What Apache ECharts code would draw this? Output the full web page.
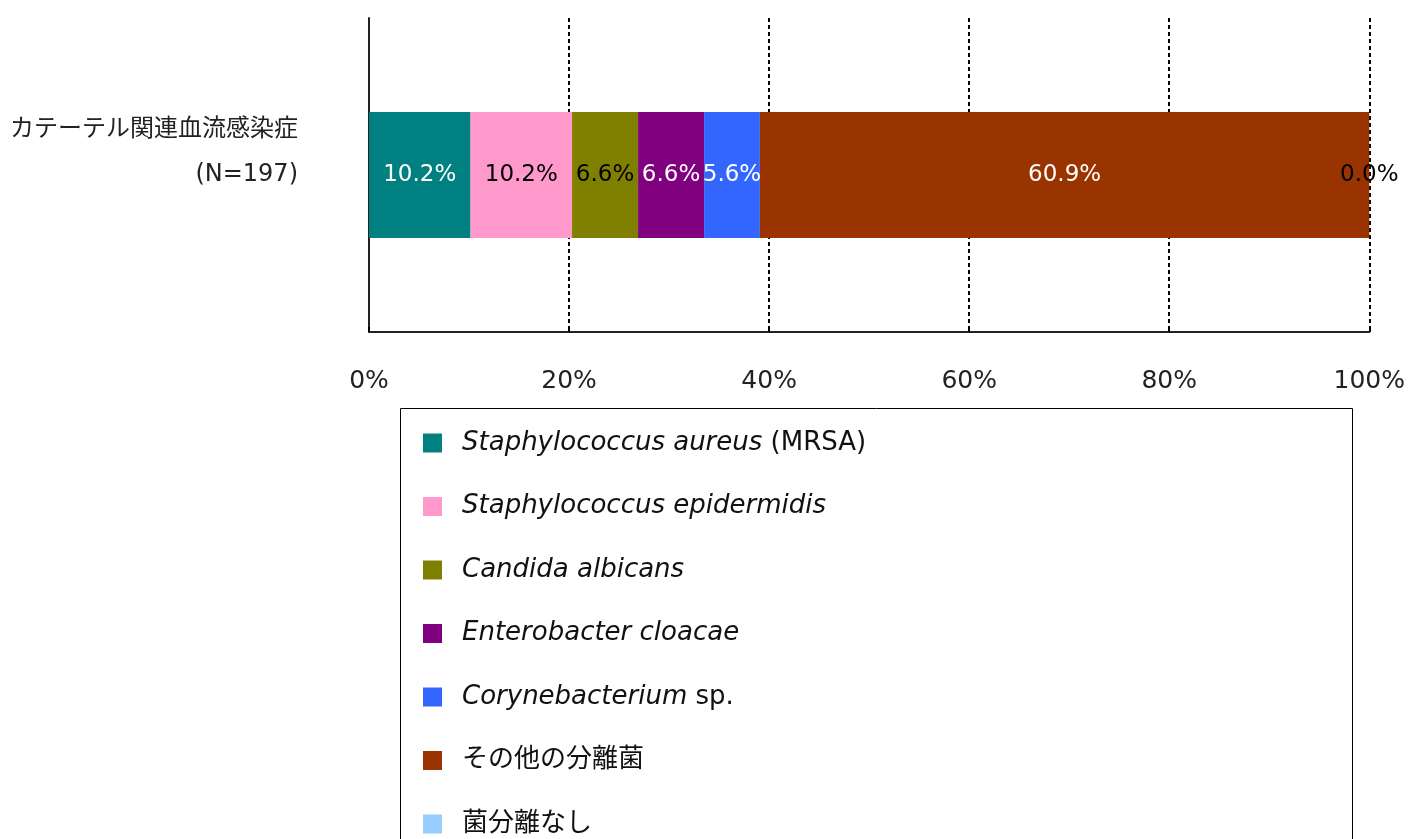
<!DOCTYPE html>
<html>
<head>
<meta charset="utf-8">
<script src="https://cdn.jsdelivr.net/npm/echarts@6/dist/echarts.min.js"></script>
<style>
  html, body { margin: 0; padding: 0; background: #fff; }
  #chart { width: 1408px; height: 839px; }
</style>
</head>
<body>
<div id="chart"></div>
<script>
  // カテゴリ
  var categories = ['カテーテル関連血流感染症\n(N=197)'];
  // 菌名 (斜体部分, 通常部分)
  var italicParts = ['Staphylococcus aureus', 'Staphylococcus epidermidis', 'Candida albicans', 'Enterobacter cloacae', 'Corynebacterium', '', ''];
  var normalParts = [' (MRSA)', '', '', '', ' sp.', 'その他の分離菌', '菌分離なし'];
  // 割合 (%)
  var percents = [10.15, 10.15, 6.6, 6.6, 5.58, 60.92, 0];
  var colors = ['#008080', '#FF99CC', '#808000', '#800080', '#3366FF', '#993300', '#99CCFF'];
  var labelColors = ['#fff', '#000', '#000', '#fff', '#fff', '#fff', '#000'];
  var xTicks = [0, 20, 40, 60, 80, 100];

  var font = '"DejaVu Sans", "Noto Sans CJK JP", sans-serif';

  var series = [];
  for (var i = 0; i < percents.length; i++) {
    series.push({
      name: italicParts[i] + normalParts[i],
      type: 'bar',
      stack: 'total',
      barWidth: 126,
      clip: false,
      data: [percents[i]],
      itemStyle: { color: colors[i] },
      label: {
        show: true,
        position: 'inside',
        color: labelColors[i],
        fontFamily: font,
        fontSize: 23,
        formatter: function (p) { return p.value.toFixed(1) + '%'; }
      }
    });
  }

  var chart = echarts.init(document.getElementById('chart'));
  chart.setOption({
    animation: false,
    textStyle: { fontFamily: font },
    grid: { left: 369, right: 38, top: 18, bottom: 507 },
    xAxis: {
      type: 'value',
      min: xTicks[0],
      max: xTicks[xTicks.length - 1],
      interval: 20,
      axisLine: { show: true, lineStyle: { color: '#222', width: 2 } },
      axisTick: { show: true, inside: true, length: 5, lineStyle: { color: '#000', width: 2 } },
      axisLabel: { margin: 37, fontSize: 25, color: '#222', fontFamily: font, formatter: '{value}%' },
      splitLine: { show: true, lineStyle: { color: '#000', width: 2, type: [4, 3] } }
    },
    yAxis: {
      type: 'category',
      data: categories,
      axisLine: { show: true, lineStyle: { color: '#222', width: 2 } },
      axisTick: { show: false },
      axisLabel: {
        margin: 71,
        fontSize: 24,
        color: '#222',
        fontFamily: font,
        align: 'right',
        lineHeight: 45,
        // 下に空行を足してラベルを上へずらす
        formatter: function (v) { return v + '\n{s| }'; },
        rich: { s: { height: 45, lineHeight: 45, fontSize: 10 } }
      }
    },
    legend: {
      orient: 'vertical',
      left: 418,
      top: 425,
      height: 700,
      icon: 'rect',
      itemWidth: 19,
      itemHeight: 19,
      itemGap: 37.5,
      textStyle: {
        color: '#111',
        fontSize: 26,
        fontFamily: font,
        padding: [0, 0, 0, 15],
        rich: {
          i: { fontStyle: 'italic', fontSize: 26, fontFamily: font, color: '#111' },
          n: { fontSize: 26, fontFamily: font, color: '#111' }
        }
      },
      formatter: function (name) {
        var idx = series.findIndex(function (s) { return s.name === name; });
        var out = '';
        if (italicParts[idx]) out += '{i|' + italicParts[idx] + '}';
        if (normalParts[idx]) out += '{n|' + normalParts[idx] + '}';
        return out;
      }
    },
    graphic: [{
      type: 'rect',
      silent: true,
      shape: { x: 400.5, y: 408.5, width: 952, height: 460 },
      style: { fill: 'none', stroke: '#000', lineWidth: 1 },
      z: 100
    }],
    series: series
  });
</script>
</body>
</html>
